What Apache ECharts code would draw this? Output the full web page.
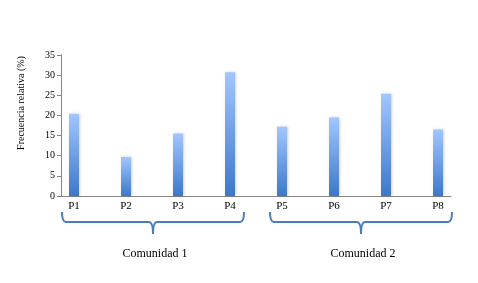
<!DOCTYPE html>
<html>
<head>
<meta charset="utf-8">
<script src="https://cdn.jsdelivr.net/npm/echarts@6/dist/echarts.min.js"></script>
<style>
  html, body { margin: 0; padding: 0; background: #fff; }
  #chart { width: 478px; height: 283px; }
</style>
</head>
<body>
<div id="chart"></div>
<script>
// puntos de muestreo y frecuencia relativa (%)
const puntos = ['P1', 'P2', 'P3', 'P4', 'P5', 'P6', 'P7', 'P8']
const frecuencia = [20.4, 9.7, 15.5, 30.7, 17.2, 19.5, 25.4, 16.5]
const grupos = ['Comunidad 1', 'Comunidad 2']
const yTicks = { min: 0, max: 35, interval: 5 }

// hueco vacío entre cada punto, como en el original
const categorias = []
const valores = []
puntos.forEach((p, i) => {
  categorias.push(p)
  valores.push(frecuencia[i])
  if (i < puntos.length - 1) {
    categorias.push('')
    valores.push(null)
  }
})

const serif = 'Liberation Serif, Times New Roman, serif'
const azul = '#4a7ebb'
const trazo = { fill: null, stroke: azul, lineWidth: 2 }

// llave bajo cada comunidad (curvas + rectas)
function curva (x1, y1, x2, y2, cx, cy) {
  return { type: 'bezierCurve', shape: { x1: x1, y1: y1, x2: x2, y2: y2, cpx1: cx, cpy1: cy }, style: trazo }
}
function recta (x1, y1, x2, y2) {
  return { type: 'line', shape: { x1: x1, y1: y1, x2: x2, y2: y2 }, style: trazo }
}
function llave (x1, x2, y) {
  const m = (x1 + x2) / 2
  const b = y + 10
  return [
    curva(x1, y, x1 + 4, b, x1, b),
    recta(x1 + 4, b, m - 4, b),
    curva(m - 4, b, m, b + 12, m, b),
    curva(m, b + 12, m + 4, b, m, b),
    recta(m + 4, b, x2 - 4, b),
    curva(x2 - 4, b, x2, y, x2, b)
  ]
}
function rotulo (texto, x, y) {
  return {
    type: 'text',
    x: x,
    y: y,
    style: { text: texto, font: '12px ' + serif, fill: '#000', align: 'center', verticalAlign: 'middle' }
  }
}

const chart = echarts.init(document.getElementById('chart'))
const option = {
  animation: false,
  grid: { left: 61, right: 27, top: 55, bottom: 87 },
  xAxis: {
    type: 'category',
    data: categorias,
    axisLine: { lineStyle: { color: '#868686', width: 1 } },
    axisTick: { interval: 0, length: 4, lineStyle: { color: '#868686' } },
    axisLabel: { interval: 0, color: '#000', fontFamily: serif, fontSize: 11, margin: 5 }
  },
  yAxis: {
    type: 'value',
    min: yTicks.min,
    max: yTicks.max,
    interval: yTicks.interval,
    splitLine: { show: false },
    axisLine: { show: true, lineStyle: { color: '#868686', width: 1 } },
    axisTick: { show: true, length: 4, lineStyle: { color: '#868686' } },
    axisLabel: { color: '#000', fontFamily: serif, fontSize: 10, margin: 6 }
  },
  series: [
    {
      type: 'bar',
      data: valores,
      barWidth: 10,
      itemStyle: {
        color: {
          type: 'linear', x: 0, y: 0, x2: 0, y2: 1,
          colorStops: [
            { offset: 0, color: '#a2c6ff' },
            { offset: 1, color: '#3b78cb' }
          ]
        },
        shadowColor: 'rgba(0,0,0,0.18)',
        shadowBlur: 3,
        shadowOffsetX: 1
      }
    }
  ],
  graphic: [
    // título del eje Y, algo más arriba que el centro del eje
    {
      type: 'text',
      x: 21,
      y: 103,
      rotation: Math.PI / 2,
      style: { text: 'Frecuencia relativa (%)', font: '10px ' + serif, fill: '#000', align: 'center', verticalAlign: 'middle' }
    },
    ...llave(62, 244, 212),
    ...llave(270, 452, 212),
    rotulo(grupos[0], 155, 254),
    rotulo(grupos[1], 363, 254)
  ]
}
chart.setOption(option)
</script>
</body>
</html>
